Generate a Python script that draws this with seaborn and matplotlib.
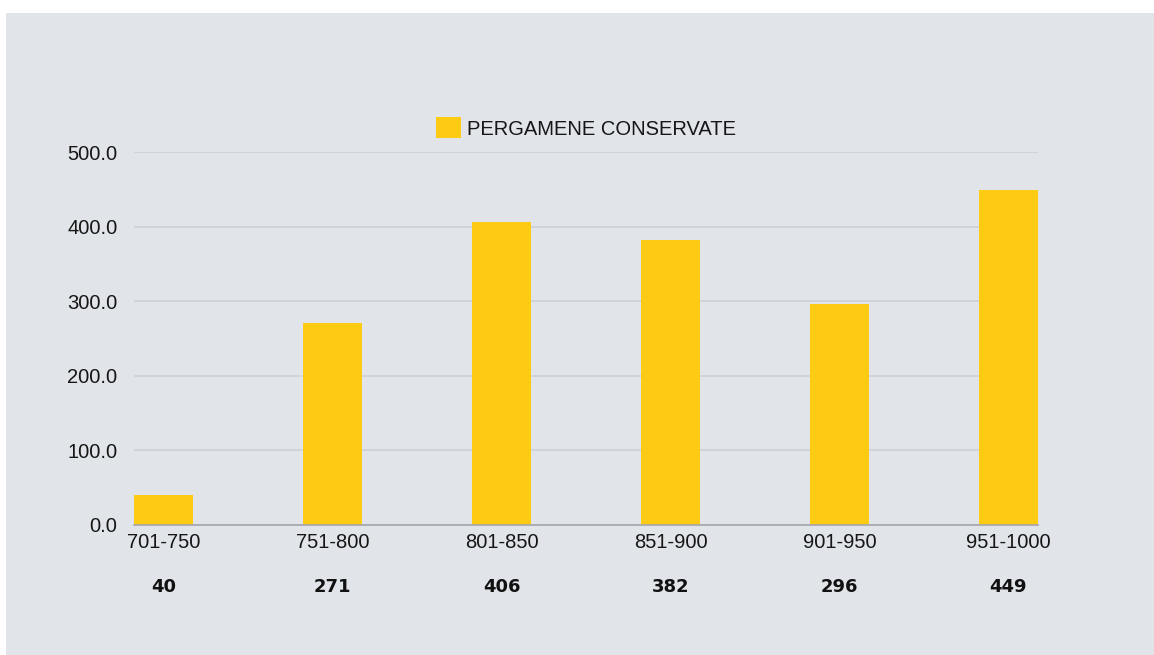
import matplotlib
matplotlib.use('Agg')
import matplotlib.pyplot as plt
import seaborn as sns
import pandas as pd
from matplotlib.patches import Rectangle

# Data
periods = ['701-750', '751-800', '801-850', '851-900', '901-950', '951-1000']
counts = [40, 271, 406, 382, 296, 449]
series_name = 'PERGAMENE CONSERVATE'

bg = '#e1e5e9'
bar_color = '#fdca14'

sns.set_theme(style='white')
plt.rcParams['font.family'] = ['Liberation Sans', 'DejaVu Sans']

df = pd.DataFrame({'period': periods, 'count': counts})

fig = plt.figure(figsize=(11.54, 6.55), dpi=100)
fig.patch.set_facecolor('white')
# gray panel behind the chart
fig.patches.append(Rectangle((6 / 1154, 0), 1 - 6 / 1154, 1 - 13 / 655,
                             transform=fig.transFigure, facecolor=bg,
                             edgecolor='none', zorder=-5))

ax = fig.add_axes([134 / 1154, 130 / 655, 904 / 1154, 373 / 655])
ax.set_facecolor('none')

sns.barplot(data=df, x='period', y='count', color=bar_color, width=0.35,
            saturation=1, label=series_name, ax=ax, zorder=3, linewidth=0)

ax.set_xlim(-0.175, len(periods) - 1 + 0.175)
ax.set_ylim(0, 500)
ax.set_yticks(range(0, 501, 100))
ax.set_yticklabels([f'{v:.1f}' for v in range(0, 501, 100)])
ax.set_xlabel('')
ax.set_ylabel('')

ax.grid(axis='y', color='#ccd0d4', linewidth=1.1, zorder=0)
ax.grid(axis='x', visible=False)
for s in ['top', 'right', 'left']:
    ax.spines[s].set_visible(False)
ax.spines['bottom'].set_color('#a3a7ab')
ax.spines['bottom'].set_linewidth(1.2)
ax.spines['bottom'].set_zorder(4)

ax.tick_params(axis='y', length=0, pad=12, labelsize=14.5, labelcolor='#161616')
ax.tick_params(axis='x', length=0, pad=6, labelsize=14.5, labelcolor='#161616')

# values under the category labels
for i, v in enumerate(counts):
    ax.text(i, -62 / 373, str(v), transform=ax.get_xaxis_transform(),
            ha='center', va='center', fontsize=13, fontweight='bold',
            family='DejaVu Sans', color='#111111')

leg = ax.legend(loc='center', bbox_to_anchor=(0.5, 1 + 24 / 373), frameon=False,
                fontsize=14.5, handlelength=1.2, handleheight=1.2,
                handletextpad=0.3, borderaxespad=0)
for t in leg.get_texts():
    t.set_color('#161616')

fig.savefig('out.png', dpi=100, facecolor='white')
